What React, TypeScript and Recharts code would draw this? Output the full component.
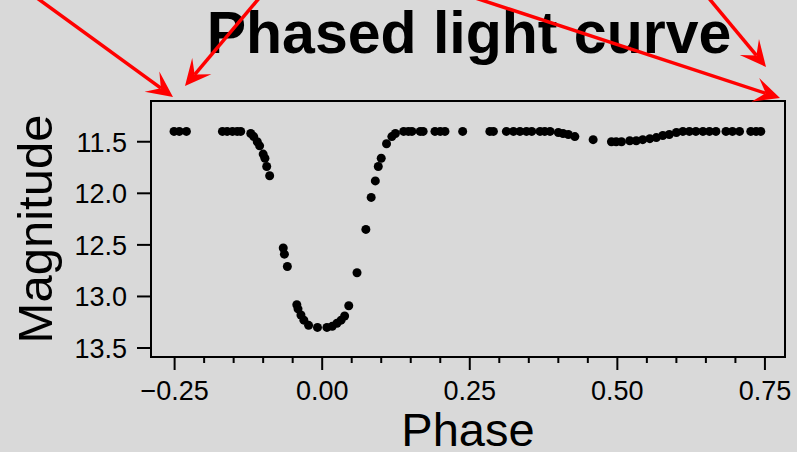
import React from "react";
import { ScatterChart, Scatter, XAxis, YAxis, ReferenceArea } from "recharts";

// ── data ──────────────────────────────────────────────────────────────────────
const PHASE = [
  -0.251, -0.242, -0.23, -0.169, -0.161, -0.152, -0.144, -0.138, -0.121, -0.116,
  -0.11, -0.106, -0.1, -0.097, -0.094, -0.089, -0.066, -0.064, -0.059, -0.043,
  -0.041, -0.036, -0.031, -0.023, -0.008, 0.008, 0.017, 0.025, 0.032, 0.038,
  0.045, 0.059, 0.074, 0.083, 0.09, 0.095, 0.1, 0.109, 0.118, 0.124,
  0.138, 0.146, 0.152, 0.166, 0.171, 0.191, 0.2, 0.208, 0.238, 0.284,
  0.29, 0.312, 0.324, 0.335, 0.346, 0.355, 0.369, 0.377, 0.386, 0.4,
  0.408, 0.417, 0.428, 0.459, 0.49, 0.498, 0.507, 0.521, 0.532, 0.543,
  0.555, 0.566, 0.577, 0.588, 0.6, 0.611, 0.622, 0.633, 0.645, 0.656,
  0.667, 0.684, 0.695, 0.707, 0.726, 0.735, 0.743,
];
const MAG = [
  11.4, 11.4, 11.4, 11.4, 11.4, 11.4, 11.4, 11.4, 11.42, 11.45,
  11.5, 11.54, 11.62, 11.66, 11.74, 11.83, 12.53, 12.59, 12.71, 13.08,
  13.12, 13.18, 13.23, 13.28, 13.3, 13.3, 13.29, 13.26, 13.23, 13.19,
  13.09, 12.77, 12.35, 12.04, 11.88, 11.74, 11.66, 11.52, 11.45, 11.42,
  11.4, 11.4, 11.4, 11.4, 11.4, 11.4, 11.4, 11.4, 11.4, 11.4,
  11.4, 11.4, 11.4, 11.4, 11.4, 11.4, 11.4, 11.4, 11.4, 11.41,
  11.42, 11.43, 11.45, 11.48, 11.5, 11.5, 11.5, 11.49, 11.49, 11.48,
  11.47, 11.46, 11.44, 11.43, 11.41, 11.4, 11.4, 11.4, 11.4, 11.4,
  11.4, 11.4, 11.4, 11.4, 11.4, 11.4, 11.4,
];

const PHASE_TICKS = [
  -0.25, -0.2, -0.15, -0.1, -0.05, 0, 0.05, 0.1, 0.15, 0.2, 0.25,
  0.3, 0.35, 0.4, 0.45, 0.5, 0.55, 0.6, 0.65, 0.7, 0.75,
];
const PHASE_MAJOR = [-0.25, 0, 0.25, 0.5, 0.75];
const PHASE_LABELS = ["\u22120.25", "0.00", "0.25", "0.50", "0.75"];
const MAG_TICKS = [11.5, 12, 12.5, 13, 13.5];

const X_DOMAIN: [number, number] = [-0.29, 0.784];
const Y_DOMAIN: [number, number] = [11.105, 13.587];

const FONT = "'Liberation Sans', Arial, Helvetica, sans-serif";
const BG = "#d9d9d9";
const W = 797;
const H = 452;

const points = PHASE.map((p, i) => ({ phase: p, mag: MAG[i] }));

// arrows pointing at the plot corners (annotation, pixel space)
const ARROWS = [
  { x1: 26, y1: -10, x2: 173, y2: 97 },
  { x1: 266, y1: -10, x2: 185, y2: 86 },
  { x1: 702, y1: -10, x2: 766, y2: 67 },
  { x1: 451, y1: -10, x2: 780, y2: 98 },
];

if (typeof document !== "undefined") {
  document.body.style.margin = "0";
  document.body.style.background = BG;
}

// ── ticks ─────────────────────────────────────────────────────────────────────
function PhaseTick(props: any) {
  const { x, y, payload } = props;
  const idx = PHASE_MAJOR.indexOf(payload.value);
  const major = idx >= 0;
  return (
    <g>
      <line x1={x} x2={x} y1={y} y2={y + (major ? 13 : 6)} stroke="#000" strokeWidth={2} />
      {major && (
        <text x={x} y={y + 43} textAnchor="middle" fontSize={27} fontFamily={FONT} fill="#000">
          {PHASE_LABELS[idx]}
        </text>
      )}
    </g>
  );
}

function MagTick(props: any) {
  const { x, y, payload } = props;
  return (
    <g>
      <line x1={x - 14} x2={x} y1={y} y2={y} stroke="#000" strokeWidth={2} />
      <text x={x - 24} y={y + 10} textAnchor="end" fontSize={27} fontFamily={FONT} fill="#000">
        {Number(payload.value).toFixed(1)}
      </text>
    </g>
  );
}

function Arrow({ x1, y1, x2, y2 }: { x1: number; y1: number; x2: number; y2: number }) {
  const len = Math.hypot(x2 - x1, y2 - y1);
  const ux = (x2 - x1) / len, uy = (y2 - y1) / len;
  const px = -uy, py = ux;
  const L = 26, HW = 12.5, N = 15;
  const bx = x2 - ux * L, by = y2 - uy * L;
  const nx = x2 - ux * N, ny = y2 - uy * N;
  const pts = [
    [x2, y2], [bx + px * HW, by + py * HW], [nx, ny], [bx - px * HW, by - py * HW],
  ].map((p) => p.join(",")).join(" ");
  return (
    <g>
      <line x1={x1} y1={y1} x2={nx} y2={ny} stroke="#ff0000" strokeWidth={3.5} />
      <polygon points={pts} fill="#ff0000" />
    </g>
  );
}

export default function App() {
  return (
    <div style={{ position: "absolute", left: 0, top: 0, width: W, height: H, background: BG, fontFamily: FONT }}>
      <ScatterChart width={W} height={H} margin={{ top: 101, right: 12, left: 0, bottom: 0 }}>
        <XAxis
          type="number" dataKey="phase" domain={X_DOMAIN} allowDataOverflow
          ticks={PHASE_TICKS} interval={0} tick={<PhaseTick />}
          tickSize={0} tickMargin={0} axisLine={false} height={95}
        />
        <YAxis
          type="number" dataKey="mag" domain={Y_DOMAIN} allowDataOverflow reversed
          ticks={MAG_TICKS} interval={0} tick={<MagTick />}
          tickSize={0} tickMargin={0} axisLine={false} width={151}
        />
        <ReferenceArea
          x1={X_DOMAIN[0]} x2={X_DOMAIN[1]} y1={Y_DOMAIN[0]} y2={Y_DOMAIN[1]}
          fill="none" fillOpacity={0} stroke="#000" strokeWidth={2} ifOverflow="visible"
        />
        <Scatter
          data={points} isAnimationActive={false}
          shape={(p: any) => <circle cx={p.cx} cy={p.cy} r={4.5} fill="#000" />}
        />
      </ScatterChart>

      {/* titles + red arrows */}
      <svg width={W} height={H} style={{ position: "absolute", left: 0, top: 0, pointerEvents: "none" }}>
        <text x={469} y={53} textAnchor="middle" fontSize={59} fontWeight="bold" fontFamily={FONT} fill="#000">
          Phased light curve
        </text>
        <text x={468} y={446} textAnchor="middle" fontSize={47} fontFamily={FONT} fill="#000">
          Phase
        </text>
        <text
          x={52} y={229} textAnchor="middle" fontSize={49} fontFamily={FONT} fill="#000"
          transform="rotate(-90 52 229)"
        >
          Magnitude
        </text>
        {ARROWS.map((a, i) => <Arrow key={i} {...a} />)}
      </svg>
    </div>
  );
}
